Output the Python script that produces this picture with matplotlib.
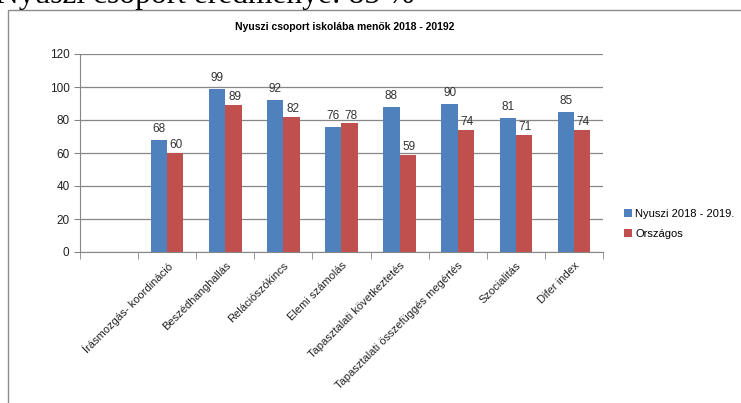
import numpy as np
import matplotlib.pyplot as plt
from matplotlib.patches import Rectangle

# Data
categories = ['', 'Írásmozgás- koordináció', 'Beszédhanghallás', 'Relációszókincs',
              'Elemi számolás', 'Tapasztalati következtetés',
              'Tapasztalati összefüggés megértés', 'Szocialitás', 'Difer index']
nyuszi = [None, 68, 99, 92, 76, 88, 90, 81, 85]
orszagos = [None, 60, 89, 82, 78, 59, 74, 71, 74]
series_names = ['Nyuszi 2018 - 2019.', 'Országos']
title = 'Nyuszi csoport iskolába menők 2018 - 20192'
top_text = 'Nyuszi csoport eredménye: 85 %'

blue = '#4F81BD'
red = '#C0504D'
grid_col = '#878787'
font = 'Liberation Sans'

fig = plt.figure(figsize=(7.41, 4.03), dpi=100)
ax = fig.add_axes([80 / 741, 1 - 252 / 403, 523 / 741, 198 / 403])

# text of the page above the chart, cut off at the top
fig.text(-4 / 741, 1 - 3 / 403, top_text, family='Liberation Serif', fontsize=22.7,
         va='baseline', ha='left')

# chart border
fig.patches.append(Rectangle((8 / 741, -0.1), 1.1, 1 - 10 / 403 + 0.1,
                             transform=fig.transFigure, fill=False,
                             edgecolor='#8c8c8c', linewidth=1.0))

x = np.arange(len(categories))
w = 0.28
vals_b = [np.nan if v is None else v for v in nyuszi]
vals_r = [np.nan if v is None else v for v in orszagos]
bars_b = ax.bar(x - w / 2, vals_b, w, color=blue, label=series_names[0], zorder=3)
bars_r = ax.bar(x + w / 2, vals_r, w, color=red, label=series_names[1], zorder=3)

for xi, v in zip(x, nyuszi):
    if v is not None:
        ax.text(xi - w / 2, v + 3, str(v), ha='center', va='bottom',
                family=font, fontsize=8.5, color='#333333')
for xi, v in zip(x, orszagos):
    if v is not None:
        ax.text(xi + w / 2 + 0.02, v + 1, str(v), ha='center', va='bottom',
                family=font, fontsize=8.5, color='#333333')

ax.set_xlim(-0.5, len(categories) - 0.5)
ax.set_ylim(0, 120)
ax.set_yticks(range(0, 121, 20))
ax.yaxis.grid(True, color=grid_col, linewidth=0.9, zorder=0)
ax.set_axisbelow(True)

ax.set_xticks(x)
ax.set_xticklabels(categories, rotation=45, ha='right', rotation_mode='anchor',
                   family=font, fontsize=8, color='#222222')
ax.tick_params(axis='x', length=0, pad=6)
ax.set_xticks(np.arange(-0.5, len(categories)), minor=True)
ax.tick_params(axis='x', which='minor', length=5, color=grid_col)
ax.tick_params(axis='y', length=4, color=grid_col, labelsize=8.5)
for lab in ax.get_yticklabels():
    lab.set_family(font)
    lab.set_color('#222222')

for s in ['top', 'right']:
    ax.spines[s].set_visible(False)
for s in ['left', 'bottom']:
    ax.spines[s].set_color(grid_col)

ax.set_title(title, family=font, fontsize=7.5, fontweight='bold', pad=17,
             x=0.5 + 0.006)

fig.legend(handles=[bars_b, bars_r], labels=series_names, loc='upper left',
           bbox_to_anchor=(614 / 741, 1 - 199 / 403), frameon=False,
           prop={'family': font, 'size': 8}, handlelength=0.7, handleheight=0.7,
           handletextpad=0.3, labelspacing=0.9)

fig.savefig('out.png', dpi=100)
